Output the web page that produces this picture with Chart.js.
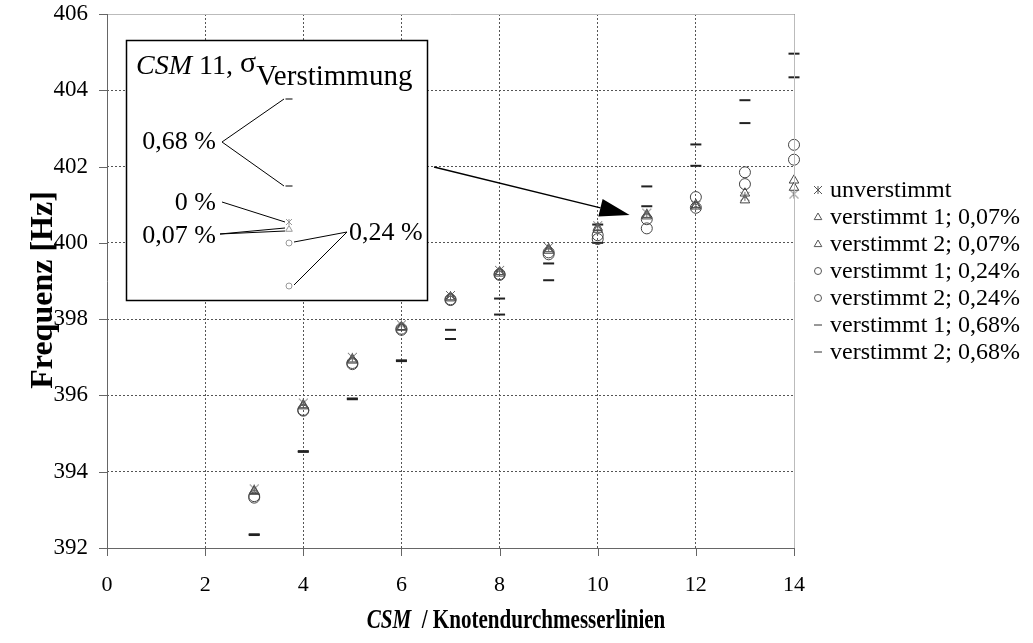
<!DOCTYPE html>
<html>
<head>
<meta charset="utf-8">
<script src="https://cdn.jsdelivr.net/npm/chart.js@4.4.1/dist/chart.umd.min.js"></script>
<style>
    html, body { margin: 0; padding: 0; background: #fff; }
    #wrap { width: 1033px; height: 643px; }
</style>
</head>
<body>
<div id="wrap"><canvas id="freqChart" width="1033" height="643"></canvas></div>
<script>
// Data
const csm = [3, 4, 5, 6, 7, 8, 9, 10, 11, 12, 13, 14];
const unverstimmt   = [393.55, 395.80, 397.00, 397.85, 398.62, 399.28, 399.88, 400.45, 400.78, 400.98, 401.22, 401.28];
const verst1_007    = [393.50, 395.75, 396.95, 397.80, 398.58, 399.24, 399.84, 400.40, 400.74, 401.00, 401.30, 401.64];
const verst2_007    = [393.48, 395.72, 396.92, 397.78, 398.55, 399.20, 399.80, 400.35, 400.70, 400.96, 401.12, 401.45];
const verst1_024    = [393.36, 395.62, 396.85, 397.75, 398.52, 399.18, 399.75, 400.20, 400.62, 401.20, 401.85, 402.57];
const verst2_024    = [393.32, 395.60, 396.82, 397.72, 398.50, 399.16, 399.70, 400.10, 400.38, 400.92, 401.54, 402.18];
const verst1_068    = [392.36, 394.54, 395.92, 396.92, 397.72, 398.54, 399.46, 400.48, 401.48, 402.58, 403.74, 404.96];
const verst2_068    = [392.34, 394.52, 395.90, 396.90, 397.48, 398.12, 399.02, 400.00, 400.96, 402.02, 403.14, 404.34];

const seriesLabels = [
    'unverstimmt',
    'verstimmt 1; 0,07%',
    'verstimmt 2; 0,07%',
    'verstimmt 1; 0,24%',
    'verstimmt 2; 0,24%',
    'verstimmt 1; 0,68%',
    'verstimmt 2; 0,68%'
];
const xTicks = [0, 2, 4, 6, 8, 10, 12, 14];
const yTicks = [392, 394, 396, 398, 400, 402, 404, 406];

const SERIF = '"Liberation Serif", "Times New Roman", serif';

// asterisk marker: X with a vertical stroke
function makeAsterisk(size, color) {
    const c = document.createElement('canvas');
    c.width = size; c.height = size;
    const g = c.getContext('2d');
    const m = size / 2, r = size / 2 - 1;
    g.strokeStyle = color;
    g.lineWidth = 1;
    g.beginPath();
    g.moveTo(m - r, m - r); g.lineTo(m + r, m + r);
    g.moveTo(m + r, m - r); g.lineTo(m - r, m + r);
    g.moveTo(m, m - r); g.lineTo(m, m + r);
    g.stroke();
    return c;
}

const asteriskBig = makeAsterisk(11, '#666');

function pts(values) {
    return csm.map((x, i) => ({ x: x, y: values[i] }));
}

function series(label, values, style, color, radius, width) {
    return {
        label: label,
        data: pts(values),
        pointStyle: style,
        pointRadius: radius,
        pointHoverRadius: radius,
        pointBorderColor: color,
        pointBackgroundColor: 'rgba(0,0,0,0)',
        pointBorderWidth: width,
        showLine: false,
        clip: false
    };
}

const datasets = [
    series(seriesLabels[0], unverstimmt, asteriskBig, '#666', 5, 1),
    series(seriesLabels[1], verst1_007, 'triangle', '#444', 5.5, 1),
    series(seriesLabels[2], verst2_007, 'triangle', '#444', 5.5, 1),
    series(seriesLabels[3], verst1_024, 'circle', '#444', 5.5, 1),
    series(seriesLabels[4], verst2_024, 'circle', '#444', 5.5, 1),
    series(seriesLabels[5], verst1_068, 'line', '#222', 5.5, 2),
    series(seriesLabels[6], verst2_068, 'line', '#222', 5.5, 2)
];

function drawMarker(ctx, kind, x, y, r, color, lw) {
    ctx.save();
    ctx.strokeStyle = color;
    ctx.lineWidth = lw;
    ctx.beginPath();
    if (kind === 'star') {
        ctx.moveTo(x - r, y - r); ctx.lineTo(x + r, y + r);
        ctx.moveTo(x + r, y - r); ctx.lineTo(x - r, y + r);
        ctx.moveTo(x, y - r); ctx.lineTo(x, y + r);
    } else if (kind === 'triangle') {
        ctx.moveTo(x, y - r);
        ctx.lineTo(x + r * 0.95, y + r * 0.65);
        ctx.lineTo(x - r * 0.95, y + r * 0.65);
        ctx.closePath();
    } else if (kind === 'circle') {
        ctx.arc(x, y, r, 0, Math.PI * 2);
    } else if (kind === 'line') {
        ctx.moveTo(x - r, y); ctx.lineTo(x + r, y);
    }
    ctx.stroke();
    ctx.restore();
}

const legendKinds = ['star', 'triangle', 'triangle', 'circle', 'circle', 'line', 'line'];

const decorPlugin = {
    id: 'decor',
    afterDraw(chart) {
        const ctx = chart.ctx;
        const a = chart.chartArea;
        const xs = chart.scales.x, ys = chart.scales.y;
        ctx.save();

        // frame
        ctx.lineWidth = 1;
        ctx.strokeStyle = '#bbb';
        ctx.beginPath();
        ctx.moveTo(a.left, a.top + 0.5); ctx.lineTo(a.right + 0.5, a.top + 0.5);
        ctx.lineTo(a.right + 0.5, a.bottom);
        ctx.stroke();
        ctx.strokeStyle = '#666';
        ctx.beginPath();
        ctx.moveTo(a.left + 0.5, a.top); ctx.lineTo(a.left + 0.5, a.bottom + 0.5);
        ctx.lineTo(a.right + 1, a.bottom + 0.5);
        ctx.stroke();

        // tick marks
        ctx.beginPath();
        yTicks.forEach(v => {
            const y = Math.round(ys.getPixelForValue(v)) + 0.5;
            ctx.moveTo(a.left - 8, y); ctx.lineTo(a.left, y);
        });
        xTicks.forEach(v => {
            const x = Math.round(xs.getPixelForValue(v)) + 0.5;
            ctx.moveTo(x, a.bottom); ctx.lineTo(x, a.bottom + 8);
        });
        ctx.stroke();

        // axis titles
        ctx.fillStyle = '#000';
        ctx.textBaseline = 'middle';
        ctx.font = 'bold 32px ' + SERIF;
        ctx.save();
        ctx.translate(44, 290);
        ctx.rotate(-Math.PI / 2);
        ctx.textAlign = 'center';
        ctx.fillText('Frequenz [Hz]', 0, 0);
        ctx.restore();

        // x title, slightly condensed like the original
        ctx.save();
        ctx.translate(516, 621);
        ctx.scale(0.78, 1);
        ctx.textAlign = 'left';
        ctx.font = 'italic bold 27px ' + SERIF;
        const p1 = 'CSM';
        const w1 = ctx.measureText(p1).width;
        ctx.font = 'bold 27px ' + SERIF;
        const p2 = '  / Knotendurchmesserlinien';
        const w2 = ctx.measureText(p2).width;
        const tx = -(w1 + w2) / 2;
        ctx.font = 'italic bold 27px ' + SERIF;
        ctx.fillText(p1, tx, 0);
        ctx.font = 'bold 27px ' + SERIF;
        ctx.fillText(p2, tx + w1, 0);
        ctx.restore();

        // legend
        ctx.font = '24px ' + SERIF;
        seriesLabels.forEach((lab, i) => {
            const y = 190 + i * 27;
            const kind = legendKinds[i];
            const r = kind === 'circle' ? 3.5 : 4;
            drawMarker(ctx, kind, 818, y, r, kind === 'line' ? '#333' : '#555', 1);
            ctx.fillStyle = '#000';
            ctx.fillText(lab, 830, y + 1);
        });

        // inset box
        const bx = 126.5, by = 40.5, bw = 301, bh = 260;
        ctx.fillStyle = '#fff';
        ctx.fillRect(bx, by, bw, bh);
        ctx.strokeStyle = '#000';
        ctx.lineWidth = 1.5;
        ctx.strokeRect(bx, by, bw, bh);

        ctx.fillStyle = '#000';
        ctx.textBaseline = 'alphabetic';
        let ix = 136;
        ctx.font = 'italic 28px ' + SERIF;
        ctx.fillText('CSM', ix, 74);
        ix += ctx.measureText('CSM').width;
        ctx.font = '28px ' + SERIF;
        ctx.fillText(' 11, ', ix, 74);
        ix += ctx.measureText(' 11, ').width;
        ctx.font = '30px ' + SERIF;
        ctx.fillText('σ', ix, 72);
        ix += ctx.measureText('σ').width;
        ctx.font = '29px ' + SERIF;
        ctx.fillText('Verstimmung', ix, 85);

        ctx.textBaseline = 'middle';
        ctx.font = '26px ' + SERIF;
        ctx.textAlign = 'right';
        ctx.fillText('0,68 %', 216, 142);
        ctx.fillText('0 %', 216, 203);
        ctx.fillText('0,07 %', 216, 236);
        ctx.textAlign = 'left';
        ctx.fillText('0,24 %', 349, 233);

        ctx.strokeStyle = '#000';
        ctx.lineWidth = 1;
        ctx.beginPath();
        ctx.moveTo(222, 142); ctx.lineTo(284, 99);
        ctx.moveTo(222, 142); ctx.lineTo(284, 186);
        ctx.moveTo(222, 202); ctx.lineTo(285, 222);
        ctx.moveTo(220, 234); ctx.lineTo(285, 228);
        ctx.moveTo(220, 234); ctx.lineTo(285, 231);
        ctx.moveTo(347, 232); ctx.lineTo(294, 242);
        ctx.moveTo(347, 232); ctx.lineTo(294, 285);
        ctx.stroke();

        drawMarker(ctx, 'line', 289, 99, 3.5, '#555', 1.5);
        drawMarker(ctx, 'line', 289, 186, 3.5, '#555', 1.5);
        drawMarker(ctx, 'star', 289, 222, 3, '#999', 1);
        drawMarker(ctx, 'triangle', 289, 229, 3.5, '#999', 1);
        drawMarker(ctx, 'circle', 289, 243, 3, '#999', 1);
        drawMarker(ctx, 'circle', 289, 286, 3, '#999', 1);

        // arrow from inset towards CSM 11
        const sx = 434, sy = 167;
        const ex = xs.getPixelForValue(10.65), ey = ys.getPixelForValue(400.73);
        const ang = Math.atan2(ey - sy, ex - sx);
        const hl = 30, hw = 9;
        const bxh = ex - hl * Math.cos(ang), byh = ey - hl * Math.sin(ang);
        ctx.lineWidth = 1.5;
        ctx.beginPath();
        ctx.moveTo(sx, sy); ctx.lineTo(bxh, byh);
        ctx.stroke();
        ctx.fillStyle = '#000';
        ctx.beginPath();
        ctx.moveTo(ex, ey);
        ctx.lineTo(bxh + hw * Math.sin(ang), byh - hw * Math.cos(ang));
        ctx.lineTo(bxh - hw * Math.sin(ang), byh + hw * Math.cos(ang));
        ctx.closePath();
        ctx.fill();

        ctx.restore();
    }
};

document.addEventListener('DOMContentLoaded', () => {
    const ctx = document.getElementById('freqChart').getContext('2d');
    new Chart(ctx, {
        type: 'scatter',
        data: { datasets: datasets },
        options: {
            responsive: false,
            animation: false,
            events: [],
            layout: { padding: { left: 0, top: 14, right: 239, bottom: 0 } },
            plugins: {
                legend: { display: false },
                tooltip: { enabled: false }
            },
            scales: {
                x: {
                    type: 'linear',
                    min: 0,
                    max: 14,
                    afterFit: s => {
                        s.height = 95;
                        s.paddingLeft = 0;
                        s.paddingRight = 0;
                    },
                    afterBuildTicks: s => { s.ticks = xTicks.map(v => ({ value: v })); },
                    ticks: {
                        padding: 24,
                        color: '#000',
                        font: { family: SERIF, size: 22 }
                    },
                    grid: { color: '#555', lineWidth: 1, drawTicks: false },
                    border: { display: false, dash: [2, 2] }
                },
                y: {
                    min: 392,
                    max: 406,
                    afterFit: s => {
                        s.width = 107;
                        s.paddingTop = 0;
                        s.paddingBottom = 0;
                    },
                    afterBuildTicks: s => { s.ticks = yTicks.map(v => ({ value: v })); },
                    ticks: {
                        padding: 19,
                        color: '#000',
                        font: { family: SERIF, size: 23 }
                    },
                    grid: { color: '#555', lineWidth: 1, drawTicks: false },
                    border: { display: false, dash: [2, 2] }
                }
            }
        },
        plugins: [decorPlugin]
    });
});
</script>
</body>
</html>
